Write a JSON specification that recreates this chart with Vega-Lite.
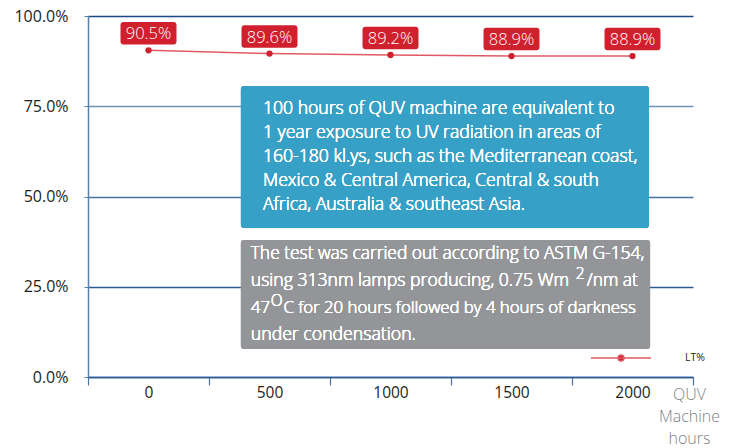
{
  "$schema": "https://vega.github.io/schema/vega-lite/v6.json",
  "autosize": {"type": "none"},
  "width": 605,
  "height": 361,
  "padding": {"left": 88, "top": 16, "right": 39, "bottom": 71},
  "background": "white",
  "config": {
    "font": "Open Sans",
    "view": {"stroke": null},
    "text": {"font": "Open Sans"}
  },
  "data": {
    "values": [
      {"hours": 0, "lt": 0.905, "series": "LT%"},
      {"hours": 500, "lt": 0.896, "series": "LT%"},
      {"hours": 1000, "lt": 0.892, "series": "LT%"},
      {"hours": 1500, "lt": 0.889, "series": "LT%"},
      {"hours": 2000, "lt": 0.889, "series": "LT%"}
    ]
  },
  "layer": [
    {
      "layer": [
        {
          "mark": {"type": "line", "stroke": "#e05a65", "strokeWidth": 1.5},
          "encoding": {
            "x": {
              "field": "hours", "type": "ordinal", "sort": "ascending",
              "scale": {"paddingInner": 0, "paddingOuter": 0},
              "axis": {
                "title": ["QUV", "Machine", "hours"],
                "titleFontSize": 16, "titleFontWeight": 300, "titleColor": "#808285",
                "titleAnchor": null, "titleX": 601, "titleY": 9, "titleAlign": "center",
                "titleBaseline": "top", "titleLineHeight": 22, "titleFont": "Open Sans",
                "labelAngle": 0, "labelFontSize": 15.5, "labelColor": "#231f20", "labelPadding": 0,
                "labelFont": "Open Sans",
                "tickBand": "extent", "tickSize": 8, "tickColor": "#4a74a0", "tickWidth": 1.2,
                "domainColor": "#2a5a92", "domainWidth": 1.5, "grid": false
              }
            },
            "y": {
              "field": "lt", "type": "quantitative",
              "scale": {"domain": [0, 1], "nice": false, "zero": true},
              "axis": {
                "title": null, "values": [0, 0.25, 0.5, 0.75, 1], "format": ".1%",
                "labelFontSize": 16, "labelColor": "#231f20", "labelPadding": 16, "labelFont": "Open Sans",
                "tickSize": 4, "tickColor": "#5a80a8", "domainColor": "#5a80a8", "domainWidth": 1.5,
                "grid": true, "gridWidth": 1.5,
                "gridColor": {"condition": [
                  {"test": "datum.value === 1", "value": "#1b4a86"},
                  {"test": "datum.value === 0.75", "value": "#6f90b0"},
                  {"test": "datum.value === 0.5", "value": "#4a72a0"}
                ], "value": "#2c5b92"}
              }
            },
            "color": {
              "field": "series", "type": "nominal",
              "scale": {"range": ["#e05a65"]},
              "legend": {
                "title": null, "orient": "none", "legendX": 502, "legendY": 311, "padding": 0,
                "symbolType": "M-1,0H1M-0.1,0A0.1,0.1,0,1,1,0.1,0A0.1,0.1,0,1,1,-0.1,0Z",
                "symbolSize": 3600, "labelFontSize": 10.5, "labelColor": "#231f20", "labelOffset": 33,
                "labelFont": "Open Sans",
                "encode": {"symbols": {"update": {"fill": {"value": "#d0202e"}, "stroke": {"value": "#e8808a"}, "strokeWidth": {"value": 1.3}}}}
              }
            }
          }
        },
        {
          "mark": {"type": "point", "filled": true, "color": "#d0202e", "size": 40, "opacity": 1},
          "encoding": {
            "x": {"field": "hours", "type": "ordinal", "sort": "ascending"},
            "y": {"field": "lt", "type": "quantitative"}
          }
        },
        {
          "mark": {
            "type": "point", "filled": true, "color": "#d0202e", "opacity": 1, "size": 3136, "yOffset": -17,
            "shape": "M-0.9,-0.4H0.9A0.1,0.1,0,0,1,1,-0.3V0.3A0.1,0.1,0,0,1,0.9,0.4H-0.9A0.1,0.1,0,0,1,-1,0.3V-0.3A0.1,0.1,0,0,1,-0.9,-0.4Z"
          },
          "encoding": {
            "x": {"field": "hours", "type": "ordinal", "sort": "ascending"},
            "y": {"field": "lt", "type": "quantitative"}
          }
        },
        {
          "mark": {"type": "text", "color": "white", "fontSize": 16.5, "fontWeight": 300, "dy": -16, "baseline": "middle", "align": "center", "font": "Open Sans"},
          "encoding": {
            "x": {"field": "hours", "type": "ordinal", "sort": "ascending"},
            "y": {"field": "lt", "type": "quantitative"},
            "text": {"field": "lt", "type": "quantitative", "format": ".1%"}
          }
        }
      ]
    },
    {
      "layer": [
        {
          "mark": {"type": "rect", "color": "#37a0c6", "cornerRadius": 3},
          "encoding": {
            "x": {"datum": 1.264, "type": "quantitative", "scale": {"domain": [0, 5], "nice": false, "zero": false}, "axis": null},
            "x2": {"datum": 4.636},
            "y": {"datum": 0.806, "type": "quantitative"},
            "y2": {"datum": 0.413}
          }
        },
        {
          "mark": {"type": "rect", "color": "#939598", "cornerRadius": 3},
          "encoding": {
            "x": {"datum": 1.264, "type": "quantitative"},
            "x2": {"datum": 4.645},
            "y": {"datum": 0.3795, "type": "quantitative"},
            "y2": {"datum": 0.0776}
          }
        },
        {
          "mark": {"type": "text", "color": "white", "fontSize": 17.6, "fontWeight": 300, "align": "left", "baseline": "alphabetic", "lineHeight": 24, "font": "Open Sans"},
          "encoding": {
            "x": {"datum": 1.446, "type": "quantitative"},
            "y": {"datum": 0.7285, "type": "quantitative"},
            "text": {"value": [
              "100 hours of QUV machine are equivalent to",
              "1 year exposure to UV radiation in areas of",
              "160-180 kl.ys, such as the Mediterranean coast,",
              "Mexico & Central America, Central & south",
              "Africa, Australia & southeast Asia."
            ]}
          }
        },
        {
          "mark": {"type": "text", "color": "white", "fontSize": 17.4, "fontWeight": 300, "align": "left", "baseline": "alphabetic", "font": "Open Sans"},
          "encoding": {
            "x": {"datum": 1.345, "type": "quantitative"},
            "y": {"datum": 0.3269, "type": "quantitative"},
            "text": {"value": "The test was carried out according to ASTM G-154,"}
          }
        },
        {
          "mark": {"type": "text", "color": "white", "fontSize": 17.6, "fontWeight": 300, "align": "left", "baseline": "alphabetic", "font": "Open Sans"},
          "encoding": {
            "x": {"datum": 1.345, "type": "quantitative"},
            "y": {"datum": 0.2521, "type": "quantitative"},
            "text": {"value": "using 313nm lamps producing, 0.75 Wm"}
          }
        },
        {
          "mark": {"type": "text", "color": "white", "fontSize": 15.5, "fontWeight": 300, "align": "left", "baseline": "alphabetic", "dy": -7, "font": "Open Sans"},
          "encoding": {
            "x": {"datum": 4.03, "type": "quantitative"},
            "y": {"datum": 0.2521, "type": "quantitative"},
            "text": {"value": "2"}
          }
        },
        {
          "mark": {"type": "text", "color": "white", "fontSize": 17.4, "fontWeight": 300, "align": "left", "baseline": "alphabetic", "font": "Open Sans"},
          "encoding": {
            "x": {"datum": 4.122, "type": "quantitative"},
            "y": {"datum": 0.2521, "type": "quantitative"},
            "text": {"value": "/nm at"}
          }
        },
        {
          "mark": {"type": "text", "color": "white", "fontSize": 17, "fontWeight": 300, "align": "left", "baseline": "alphabetic", "font": "Open Sans"},
          "encoding": {
            "x": {"datum": 1.345, "type": "quantitative"},
            "y": {"datum": 0.1773, "type": "quantitative"},
            "text": {"value": "47"}
          }
        },
        {
          "mark": {"type": "text", "color": "white", "fontSize": 15.5, "fontWeight": 300, "align": "left", "baseline": "alphabetic", "dy": -7, "font": "Open Sans"},
          "encoding": {
            "x": {"datum": 1.51, "type": "quantitative"},
            "y": {"datum": 0.1773, "type": "quantitative"},
            "text": {"value": "O"}
          }
        },
        {
          "mark": {"type": "text", "color": "white", "fontSize": 16.8, "fontWeight": 300, "align": "left", "baseline": "alphabetic", "font": "Open Sans"},
          "encoding": {
            "x": {"datum": 1.615, "type": "quantitative"},
            "y": {"datum": 0.1773, "type": "quantitative"},
            "text": {"value": "C for 20 hours followed by 4 hours of darkness"}
          }
        },
        {
          "mark": {"type": "text", "color": "white", "fontSize": 17.7, "fontWeight": 300, "align": "left", "baseline": "alphabetic", "font": "Open Sans"},
          "encoding": {
            "x": {"datum": 1.345, "type": "quantitative"},
            "y": {"datum": 0.1025, "type": "quantitative"},
            "text": {"value": "under condensation."}
          }
        }
      ]
    }
  ],
  "resolve": {"scale": {"x": "independent"}}
}
